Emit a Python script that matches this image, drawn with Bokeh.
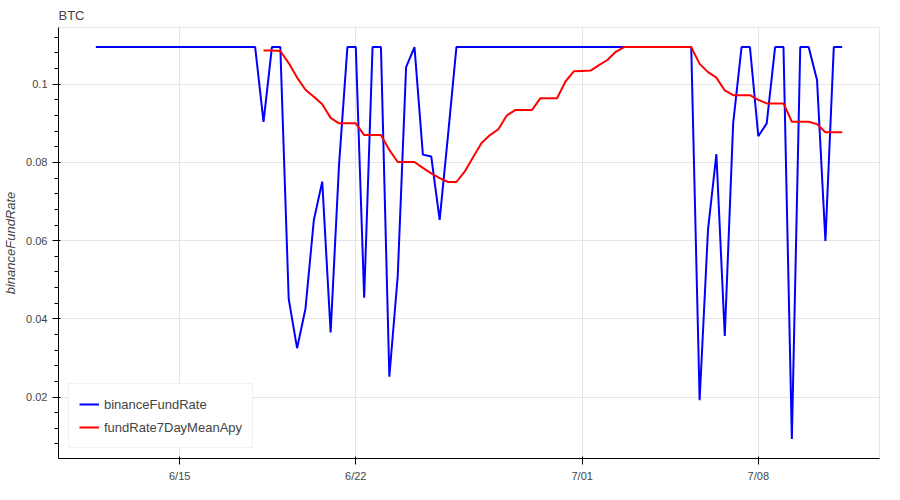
import pandas as pd
from bokeh.plotting import figure
from bokeh.models import ColumnDataSource, DatetimeTickFormatter
from bokeh.embed import file_html
from bokeh.resources import INLINE

start_time = "2024-06-11 16:00"
step = "8h"

binance_fund_rate = [
    0.1095, 0.1095, 0.1095, 0.1095, 0.1095, 0.1095, 0.1095, 0.1095, 0.1095, 0.1095,
    0.1095, 0.1095, 0.1095, 0.1095, 0.1095, 0.1095, 0.1095, 0.1095, 0.1095, 0.1095,
    0.0904, 0.1095, 0.1095, 0.0451, 0.0325, 0.0426, 0.0653, 0.0751, 0.0365, 0.0793,
    0.1095, 0.1095, 0.0454, 0.1095, 0.1095, 0.0252, 0.0509, 0.1044, 0.1095, 0.0820,
    0.0815, 0.0653, 0.0870, 0.1095, 0.1095, 0.1095, 0.1095, 0.1095, 0.1095, 0.1095,
    0.1095, 0.1095, 0.1095, 0.1095, 0.1095, 0.1095, 0.1095, 0.1095, 0.1095, 0.1095,
    0.1095, 0.1095, 0.1095, 0.1095, 0.1095, 0.1095, 0.1095, 0.1095, 0.1095, 0.1095,
    0.1095, 0.1095, 0.0192, 0.0628, 0.0821, 0.0356, 0.0900, 0.1095, 0.1095, 0.0867,
    0.0900, 0.1095, 0.1095, 0.0093, 0.1095, 0.1095, 0.1011, 0.0599, 0.1095, 0.1095,
]

mean_start_index = 20
fund_rate_7day_mean_apy = [
    0.1086, 0.1086, 0.1085, 0.1054, 0.1017, 0.0986, 0.0968, 0.0949, 0.0914, 0.0900,
    0.0900, 0.0900, 0.0870, 0.0870, 0.0870, 0.0832, 0.0801, 0.0801, 0.0801, 0.0786,
    0.0772, 0.0760, 0.0750, 0.0750, 0.0777, 0.0814, 0.0850, 0.0870, 0.0885, 0.0920,
    0.0934, 0.0934, 0.0934, 0.0964, 0.0964, 0.0964, 0.1007, 0.1033, 0.1034, 0.1035,
    0.1049, 0.1062, 0.1083, 0.1095, 0.1095, 0.1095, 0.1095, 0.1095, 0.1095, 0.1095,
    0.1095, 0.1095, 0.1052, 0.1031, 0.1017, 0.0984, 0.0972, 0.0972, 0.0972, 0.0960,
    0.0951, 0.0951, 0.0951, 0.0904, 0.0904, 0.0904, 0.0898, 0.0877, 0.0877, 0.0877,
]

dates = pd.date_range(start_time, periods=len(binance_fund_rate), freq=step)

src_rate = ColumnDataSource(dict(x=dates, y=binance_fund_rate))
src_mean = ColumnDataSource(dict(x=dates[mean_start_index:], y=fund_rate_7day_mean_apy))

p = figure(width=884, height=484, x_axis_type="datetime", title="BTC",
           output_backend="svg", toolbar_location=None)
p.title.text_font_style = "normal"
p.title.text_color = "#444444"

p.line("x", "y", source=src_rate, color="blue", line_width=2, legend_label="binanceFundRate")
p.line("x", "y", source=src_mean, color="red", line_width=2, legend_label="fundRate7DayMeanApy")

p.yaxis.axis_label = "binanceFundRate"
p.xaxis.formatter = DatetimeTickFormatter(days="%-m/%d", months="%-m/%d")
p.legend.location = "bottom_left"

open("out.html", "w").write(file_html(p, INLINE))
